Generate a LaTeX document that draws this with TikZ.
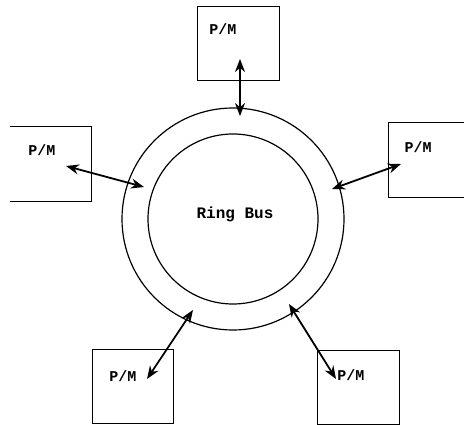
\documentclass[tikz,border=0pt]{standalone}
\usepackage{fontspec}
\setmonofont{Liberation Mono}
\usetikzlibrary{arrows.meta}
\begin{document}
\begin{tikzpicture}[x=1pt,y=-1pt,
  pmbox/.style={rectangle,inner sep=0pt,minimum width=#1,minimum height=74pt},
  pmtext/.style={font=\ttfamily\bfseries\fontsize{15}{17}\selectfont,inner sep=0pt},
  edge/.style={line width=0.8pt},
  link/.style={line width=1.8pt,{Stealth[length=13pt,width=10pt]}-{Stealth[length=13pt,width=10pt]}},
  ring/.style={circle,draw,line width=1.2pt,inner sep=0pt}]
\useasboundingbox (0,0) rectangle (464,425);
\node[ring,minimum size=222pt] (outer) at (233,219) {};
\node[ring,minimum size=170pt] (inner) at (233,219) {};
\node[pmtext,font=\ttfamily\bfseries\fontsize{16}{18}\selectfont] (rb) at (235,214) {Ring Bus};
% boxes
\node[pmbox=82pt,draw,edge] (T) at (238,43) {};
\node[pmbox=81pt] (L) at (50.5,164) {};
\node[pmbox=75pt] (R) at (426.5,160) {};
\node[pmbox=81pt,draw,edge] (BL) at (132.5,386) {};
\node[pmbox=82pt,draw,edge] (BR) at (358,387) {};
\draw[edge] (L.north west) -- (L.north east) -- (L.south east) -- (L.south west);
\draw[edge] (R.north east) -- (R.north west) -- (R.south west) -- (R.south east);
% labels
\node[pmtext] (tT) at (223,29) {P/M};
\node[pmtext] (tL) at (42,150) {P/M};
\node[pmtext] (tR) at (418,147) {P/M};
\node[pmtext] (tBL) at (123,376) {P/M};
\node[pmtext] (tBR) at (351,375) {P/M};
% arrow end points
\coordinate (aT1) at (240,59);
\coordinate (aT2) at (240,116);
\coordinate (aL1) at (66,166);
\coordinate (aL2) at (144,187);
\coordinate (aR1) at (401,164);
\coordinate (aR2) at (332,189);
\coordinate (aBL1) at (147,379);
\coordinate (aBL2) at (193,310);
\coordinate (aBR1) at (289,304);
\coordinate (aBR2) at (336,379);
\draw[link] (aT1) -- (aT2);
\draw[link] (aL1) -- (aL2);
\draw[link] (aR1) -- (aR2);
\draw[link] (aBL1) -- (aBL2);
\draw[link] (aBR1) -- (aBR2);
\end{tikzpicture}
\end{document}
